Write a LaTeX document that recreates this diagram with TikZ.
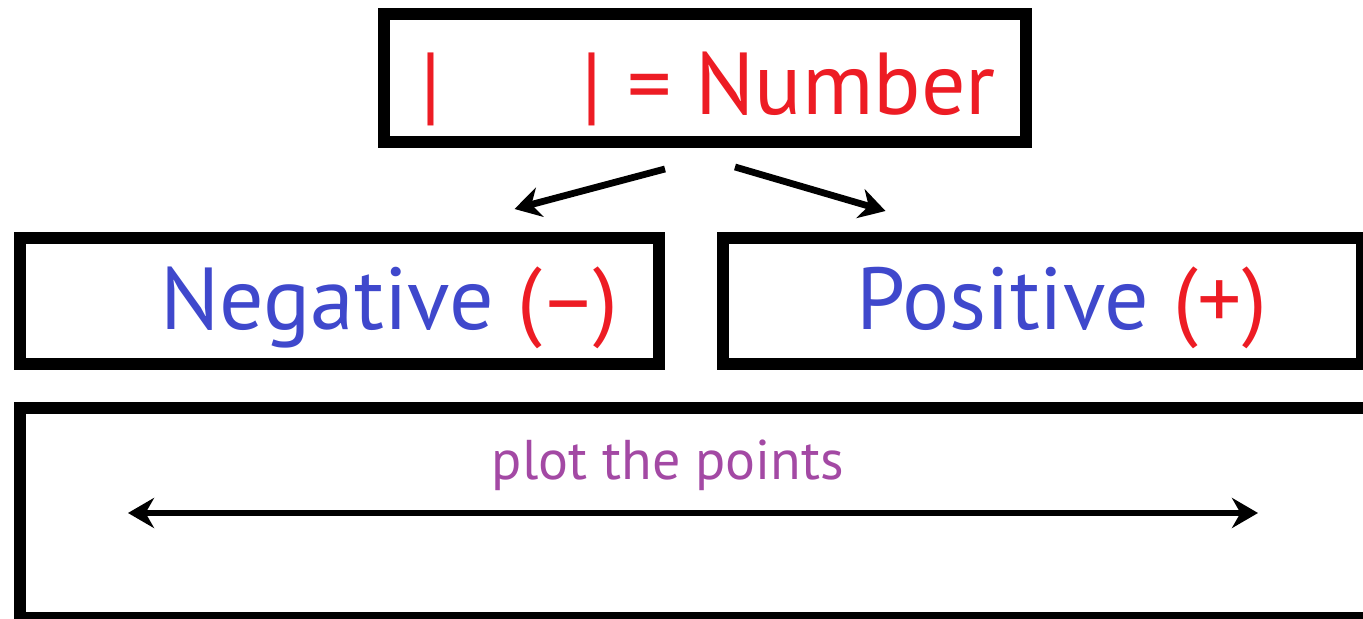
\documentclass[tikz,border=0pt]{standalone}
\usepackage{fontspec}
\setmainfont{PT Sans}
\usetikzlibrary{positioning,arrows.meta,calc}
\definecolor{numred}{RGB}{237,28,36}
\definecolor{signblue}{RGB}{63,72,204}
\definecolor{plotpurple}{RGB}{163,73,164}
\tikzset{
  box/.style={draw,line width=6pt,inner sep=0pt},
  bigtxt/.style={font=\fontsize{44}{50}\selectfont,anchor=base,inner sep=0pt},
  >={Stealth[length=13pt,width=15pt]},
}

\begin{document}
\begin{tikzpicture}[
x=0.5pt,y=0.5pt,
line width=3.4pt
]
\useasboundingbox (0,0) rectangle (1363,619);

% boxes
\node[box,minimum width=321pt,minimum height=64pt] (top) at (705,541) {};
\node[box,minimum width=319.5pt,minimum height=63pt] (neg) at (339.5,318) {};
\node[box,minimum width=319.5pt,minimum height=63pt] (pos) at (1042.5,318) {};
\node[box,minimum width=690pt,minimum height=105pt] (line) at (710,105.5) {};

% texts
\node[bigtxt,text=numred] (numtxt) at (708,504) {|\hspace{70pt}|\hspace{1pt} = Number};
\node[bigtxt,text=signblue] (negtxt) at ($(neg.center)+(50,-29)$) {Negative \textcolor{numred}{(–)}};
\node[bigtxt,text=signblue] (postxt) at ($(pos.center)+(19,-29)$) {Positive \textcolor{numred}{(+)}};
\node[font=\fontsize{28}{32}\selectfont,anchor=base,text=plotpurple] (plottxt) at (668,139) {plot the points};

% arrows
\draw[->] ($(top.south)+(-40,-21)$) -- ($(neg.north)+(175,23)$);
\draw[->] ($(top.south)+(30,-19)$) -- ($(pos.north)+(-157,21)$);
\coordinate (lend) at ($(line.center)+(-582,0.5)$);
\coordinate (rend) at ($(line.center)+(548,0.5)$);
\draw[<->] (lend) -- (rend);
\end{tikzpicture}
\end{document}
